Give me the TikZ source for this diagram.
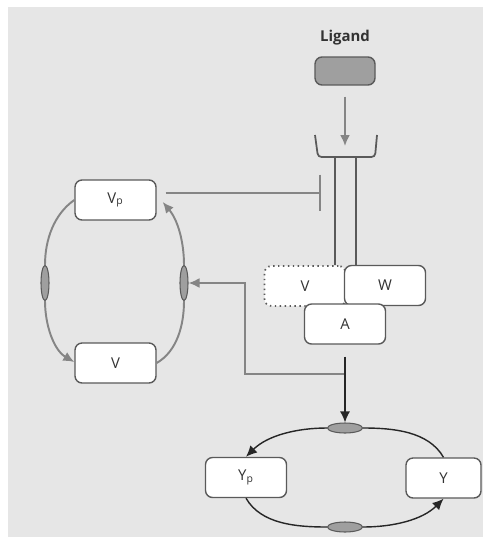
\documentclass[tikz,border=0pt]{standalone}
\usepackage{fontspec}
\setmainfont{Open Sans}
\usetikzlibrary{arrows.meta, shapes.geometric}
\usepackage{xcolor}
\definecolor{bgpanel}{HTML}{E6E6E6}
\definecolor{lnegray}{HTML}{858585}
\definecolor{edgegray}{HTML}{5A5A5A}
\definecolor{txtgray}{HTML}{333333}

\begin{document}
\begin{tikzpicture}[x=0.02cm,y=-0.02cm,font=\fontsize{8.5}{10}\selectfont,text=txtgray,
    box/.style={draw=edgegray,fill=white,rounded corners=4pt,minimum width=1.62cm,minimum height=0.8cm,inner sep=0pt,line width=0.8pt},
    dotbox/.style={box,dotted,line width=1pt},
    oval/.style={draw=edgegray,fill=gray!75,ellipse,inner sep=0pt,line width=0.6pt},
    garr/.style={-{Latex[length=2.2mm,width=2mm]},draw=lnegray,line width=1.1pt},
    gline/.style={draw=lnegray,line width=1.1pt},
    barr/.style={-{Latex[length=2.2mm,width=2mm]},draw=black!85,line width=0.8pt},
    bline/.style={draw=black!85,line width=0.8pt},
    inhib/.style={-{Bar[width=7.4mm]},draw=lnegray,line width=1.1pt}]
    \useasboundingbox (0,0) rectangle (483,537);
    \fill[bgpanel] (8,7) rectangle (483,537);
    % ligand and receptor
    \node[font=\fontsize{8.5}{10}\selectfont\bfseries] (ligtxt) at (345,38) {Ligand};
    \node[draw=edgegray,fill=gray!75,rounded corners=4pt,minimum width=1.2cm,minimum height=0.56cm,line width=0.8pt] (lig) at (345,71) {};
    \coordinate (cupin) at (345,146);
    \coordinate (cupl) at (335,157);
    \coordinate (cupr) at (356,157);
    \draw[edgegray,line width=1pt,rounded corners=2pt] (315,135) -- (318,157) -- (375,157) -- (377,135);
    \draw[garr,shorten <=0.22cm] (lig.south) -- (cupin);
    % complex
    \node[dotbox] (vd) at (305,286) {V};
    \node[box]    (w)  at (385,285.5) {W};
    \node[box]    (a)  at (345,324) {A};
    \draw[edgegray,line width=1pt] (cupl) -- (cupl |- vd.north);
    \draw[edgegray,line width=1pt] (cupr) -- (cupr |- w.north);
    % V cycle
    \node[box] (vp) at (115.5,200) {V\textsubscript{p}};
    \node[box] (v)  at (115.5,363) {V};
    \node[oval,minimum width=0.16cm,minimum height=0.7cm] (ell1) at (45,283) {};
    \node[oval,minimum width=0.16cm,minimum height=0.7cm] (ell2) at (184,283) {};
    \coordinate (inh) at (321,193);
    \draw[inhib,shorten <=0.18cm] (vp.east |- inh) -- (inh);
    \draw[gline] (vp.west) to[out=215,in=90,looseness=0.9] (ell1.north);
    \draw[garr] (ell1.south) to[out=-90,in=150,looseness=0.9] ([yshift=0.02cm]v.west);
    \draw[gline] (v.east) to[out=30,in=-90,looseness=0.9] (ell2.south);
    \draw[garr] (ell2.north) to[out=90,in=-50,looseness=0.9] ([xshift=0.12cm,yshift=-0.04cm]vp.east);
    % feedback from A
    \coordinate (jn) at (345,374);
    \coordinate (bend) at (245,374);
    \draw[garr] (jn) -- (bend) |- (ell2.east);
    % Y cycle
    \node[box] (yp) at (246,477.5) {Y\textsubscript{p}};
    \node[box,minimum width=1.5cm] (y) at (443.5,478) {Y};
    \node[oval,minimum width=0.7cm,minimum height=0.2cm] (ey1) at (345,428) {};
    \node[oval,minimum width=0.7cm,minimum height=0.2cm] (ey2) at (345,527) {};
    \draw[barr,shorten <=0.24cm] (a.south) -- (ey1.north);
    \draw[bline] (y.north) to[out=120,in=0,looseness=0.9] (ey1.east);
    \draw[barr] (ey1.west) to[out=180,in=45,looseness=0.9] (yp.north);
    \draw[bline] (yp.south) to[out=-60,in=180,looseness=0.9] (ey2.west);
    \draw[barr] (ey2.east) to[out=0,in=-135,looseness=0.9] (y.south);
  \end{tikzpicture}
\end{document}
